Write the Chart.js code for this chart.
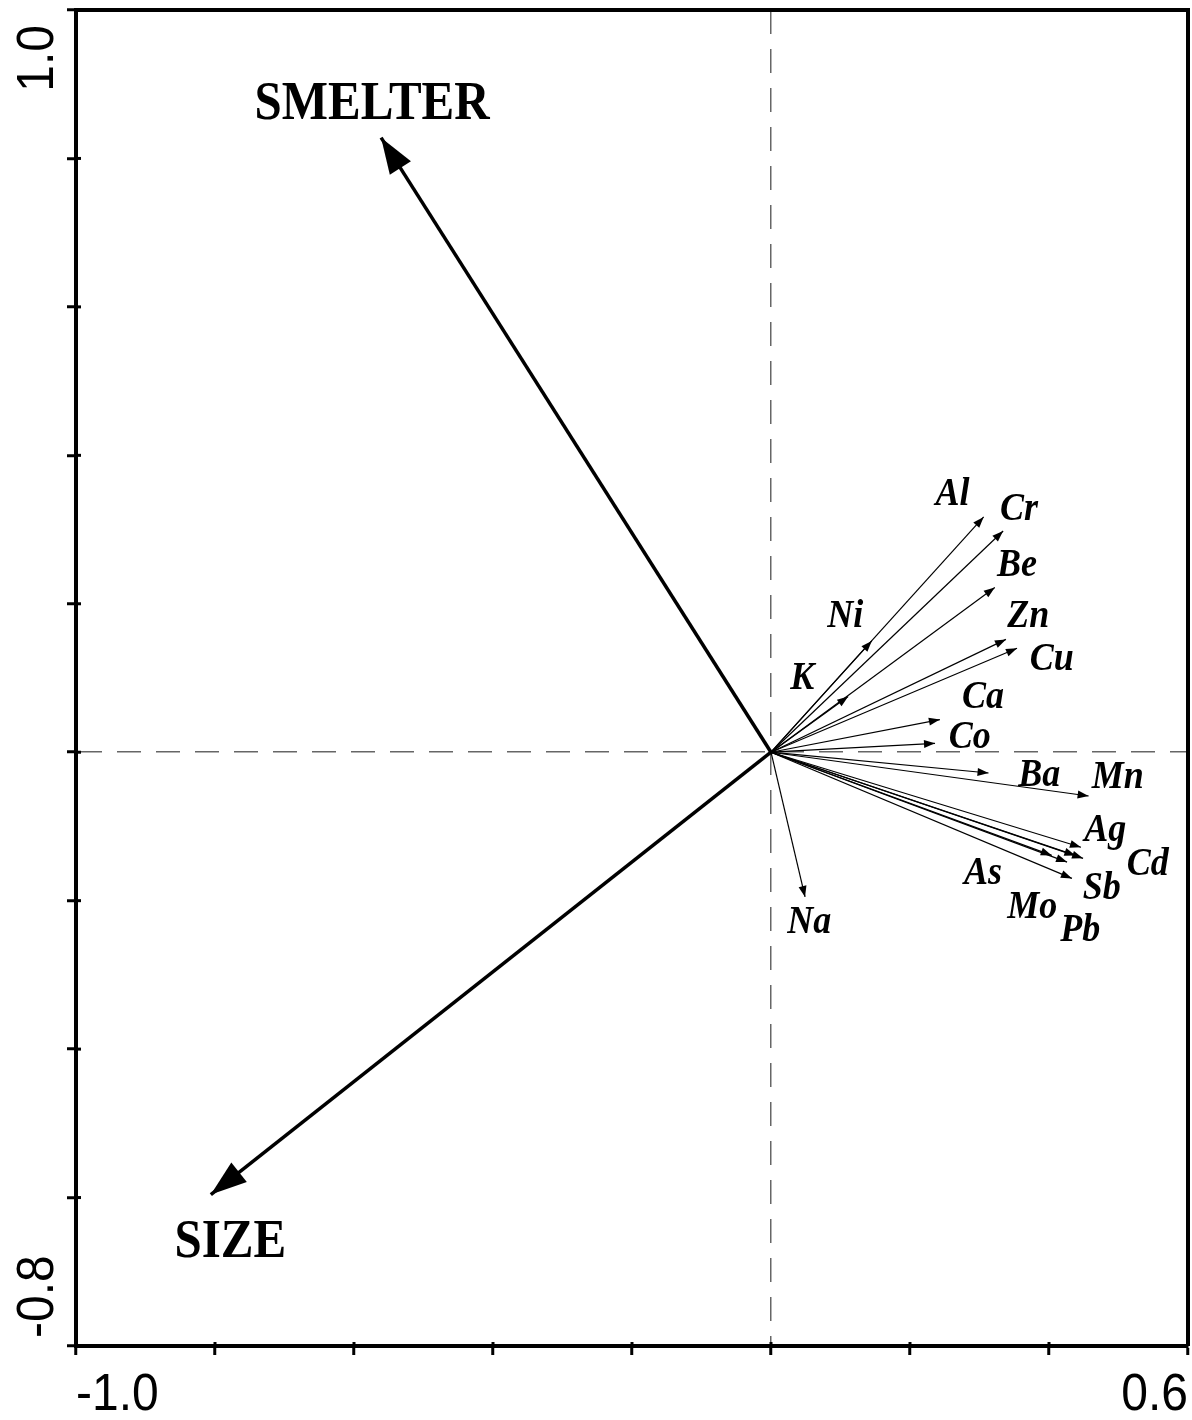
<!DOCTYPE html>
<html>
<head>
<meta charset="utf-8">
<title>Biplot</title>
<script src="https://cdn.jsdelivr.net/npm/chart.js@4.4.0/dist/chart.umd.min.js"></script>
<style>
  html, body { margin: 0; padding: 0; background: #fff; }
  canvas { display: block; }
</style>
</head>
<body>
<canvas id="biplot" width="1192" height="1420"></canvas>
<script>
// element vectors (arrow tips)
const elements = ['Al', 'Cr', 'Be', 'Ni', 'K', 'Zn', 'Cu', 'Ca', 'Co', 'Ba', 'Mn', 'Ag', 'Cd', 'Pb', 'Mo', 'As', 'Sb', 'Na'];
const elemX = [0.306, 0.334, 0.322, 0.145, 0.111, 0.338, 0.354, 0.243, 0.236, 0.313, 0.457, 0.446, 0.449, 0.438, 0.426, 0.404, 0.433, 0.049];
const elemY = [0.317, 0.298, 0.222, 0.150, 0.075, 0.152, 0.140, 0.044, 0.012, -0.028, -0.059, -0.128, -0.143, -0.139, -0.148, -0.139, -0.170, -0.195];
// where each element name sits
const elemLabelX = [0.261, 0.357, 0.354, 0.107, 0.045, 0.370, 0.404, 0.305, 0.286, 0.386, 0.499, 0.481, 0.542, 0.445, 0.376, 0.305, 0.476, 0.055];
const elemLabelY = [0.347, 0.326, 0.251, 0.182, 0.099, 0.182, 0.125, 0.074, 0.020, -0.032, -0.035, -0.106, -0.152, -0.241, -0.210, -0.164, -0.184, -0.230];

// environmental variables
const envNames = ['SMELTER', 'SIZE'];
const envX = [-0.561, -0.806];
const envY = [0.828, -0.596];
const envLabelX = [-0.574, -0.778];
const envLabelY = [0.872, -0.661];

// axes
const xMin = -1.0, xMax = 0.6;
const yMin = -0.8, yMax = 1.0;
const xTickLabels = ['-1.0', '0.6'];
const yTickLabels = ['1.0', '-0.8'];

const datasets = [];
elements.forEach((name, i) => {
    datasets.push({
        label: name,
        data: [{ x: 0, y: 0 }, { x: elemX[i], y: elemY[i] }],
        showLine: true,
        borderColor: '#000',
        borderWidth: 1.2,
        pointRadius: 0,
        headLen: 11,
        headHalf: 4,
        tag: name,
        tagX: elemLabelX[i],
        tagY: elemLabelY[i],
        tagFont: 'italic bold 36px "Liberation Serif", "Times New Roman", serif'
    });
});
envNames.forEach((name, i) => {
    datasets.push({
        label: name,
        data: [{ x: 0, y: 0 }, { x: envX[i], y: envY[i] }],
        showLine: true,
        borderColor: '#000',
        borderWidth: 3.5,
        pointRadius: 0,
        headLen: 36,
        headHalf: 12.5,
        tag: name,
        tagX: envLabelX[i],
        tagY: envLabelY[i],
        tagFont: 'bold 49px "Liberation Serif", "Times New Roman", serif'
    });
});

// arrow heads, labels, frame and end tick labels
const biplotExtras = {
    id: 'biplotExtras',
    afterDatasetsDraw(chart) {
        const ctx = chart.ctx;
        const xs = chart.scales.x, ys = chart.scales.y;
        ctx.save();
        chart.data.datasets.forEach((ds, i) => {
            const pts = chart.getDatasetMeta(i).data;
            const p0 = pts[0], p1 = pts[1];
            const ang = Math.atan2(p1.y - p0.y, p1.x - p0.x);
            ctx.fillStyle = '#000';
            ctx.beginPath();
            ctx.moveTo(p1.x, p1.y);
            ctx.lineTo(p1.x - ds.headLen * Math.cos(ang) + ds.headHalf * Math.sin(ang),
                       p1.y - ds.headLen * Math.sin(ang) - ds.headHalf * Math.cos(ang));
            ctx.lineTo(p1.x - ds.headLen * Math.cos(ang) - ds.headHalf * Math.sin(ang),
                       p1.y - ds.headLen * Math.sin(ang) + ds.headHalf * Math.cos(ang));
            ctx.closePath();
            ctx.fill();

            // text in the original is a bit taller than plain Times
            ctx.save();
            ctx.translate(xs.getPixelForValue(ds.tagX), ys.getPixelForValue(ds.tagY));
            ctx.scale(1, 1.1);
            ctx.font = ds.tagFont;
            ctx.textAlign = 'center';
            ctx.textBaseline = 'middle';
            ctx.fillText(ds.tag, 0, 0);
            ctx.restore();
        });
        ctx.restore();
    },
    afterDraw(chart) {
        const ctx = chart.ctx;
        const a = chart.chartArea;
        const xs = chart.scales.x, ys = chart.scales.y;
        ctx.save();
        // top and right frame
        ctx.strokeStyle = '#000';
        ctx.lineWidth = 4;
        ctx.beginPath();
        ctx.moveTo(a.left, a.top);
        ctx.lineTo(a.right, a.top);
        ctx.lineTo(a.right, a.bottom);
        ctx.stroke();
        // inner part of tick marks
        ctx.lineWidth = 3;
        xs.ticks.forEach(t => {
            const px = xs.getPixelForValue(t.value);
            ctx.beginPath();
            ctx.moveTo(px, a.bottom);
            ctx.lineTo(px, a.bottom - 4);
            ctx.stroke();
        });
        ys.ticks.forEach(t => {
            const py = ys.getPixelForValue(t.value);
            ctx.beginPath();
            ctx.moveTo(a.left, py);
            ctx.lineTo(a.left + 5, py);
            ctx.stroke();
        });
        // end tick labels
        ctx.fillStyle = '#000';
        ctx.font = '48px "Liberation Sans", Arial, sans-serif';
        ctx.textBaseline = 'alphabetic';

        ctx.save();
        ctx.translate(0, 1410);
        ctx.scale(1, 1.08);
        ctx.textAlign = 'left';
        ctx.fillText(xTickLabels[0], xs.getPixelForValue(xMin), 0);
        ctx.textAlign = 'right';
        ctx.fillText(xTickLabels[1], xs.getPixelForValue(xMax), 0);
        ctx.restore();

        ctx.save();
        ctx.translate(53, 0);
        ctx.rotate(-Math.PI / 2);
        ctx.scale(1, 1.08);
        ctx.textAlign = 'right';
        ctx.fillText(yTickLabels[0], -(ys.getPixelForValue(yMax) + 15), 0);
        ctx.textAlign = 'left';
        ctx.fillText(yTickLabels[1], -(ys.getPixelForValue(yMin) - 8), 0);
        ctx.restore();
        ctx.restore();
    }
};

const zeroGrid = (c) => (c.tick && Math.abs(c.tick.value) < 1e-9) ? '#666' : 'rgba(0,0,0,0)';

new Chart(document.getElementById('biplot'), {
    type: 'scatter',
    data: { datasets: datasets },
    options: {
        responsive: false,
        animation: false,
        layout: { padding: { top: 10, right: 4, left: 0, bottom: 0 } },
        plugins: {
            legend: { display: false },
            tooltip: { enabled: false }
        },
        scales: {
            x: {
                type: 'linear',
                min: xMin,
                max: xMax,
                ticks: { stepSize: 0.2, display: false },
                grid: {
                    color: zeroGrid,
                    lineWidth: 1.5,
                    tickLength: 9,
                    tickColor: '#000',
                    tickWidth: 3
                },
                border: { display: true, color: '#000', width: 4, dash: [24, 15] },
                afterFit(s) { s.height = 74; }
            },
            y: {
                type: 'linear',
                min: yMin,
                max: yMax,
                ticks: { stepSize: 0.2, display: false },
                grid: {
                    color: zeroGrid,
                    lineWidth: 1.5,
                    tickLength: 9,
                    tickColor: '#000',
                    tickWidth: 3
                },
                border: { display: true, color: '#000', width: 4, dash: [24, 15] },
                afterFit(s) { s.width = 76; }
            }
        }
    },
    plugins: [biplotExtras]
});
</script>
</body>
</html>
